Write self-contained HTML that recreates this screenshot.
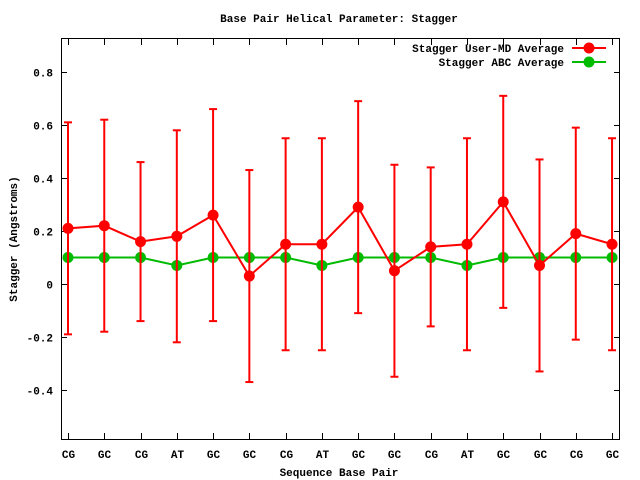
<!DOCTYPE html>
<html><head><style>
body{margin:0;background:#fff}
svg{display:block}
text{font-family:"Liberation Mono","DejaVu Sans Mono",monospace;font-size:11px;font-weight:bold;fill:#000}
</style></head><body>
<svg id="s" width="640" height="480" xmlns="http://www.w3.org/2000/svg">
<rect x="61.5" y="38.5" width="558" height="401" fill="none" stroke="#000" stroke-width="1"/>
<text x="339" y="22" text-anchor="middle">Base Pair Helical Parameter: Stagger</text>
<text x="339" y="476" text-anchor="middle">Sequence Base Pair</text>
<text transform="translate(17,239) rotate(-90)" text-anchor="middle">Stagger (Angstroms)</text>
<text x="564" y="52" text-anchor="end">Stagger User-MD Average</text>
<text x="564" y="66" text-anchor="end">Stagger ABC Average</text>
<line x1="572" y1="48" x2="606" y2="48" stroke="#f00" stroke-width="2"/>
<circle cx="589" cy="48" r="5.5" fill="#f00"/>
<line x1="572" y1="62" x2="606" y2="62" stroke="#0b0" stroke-width="2"/>
<circle cx="589" cy="62" r="5.5" fill="#0b0"/>
</svg>
<script>
var s=document.getElementById('s'),ns='http://www.w3.org/2000/svg';
function el(t,a,txt){var e=document.createElementNS(ns,t);for(var k in a)e.setAttribute(k,a[k]);if(txt!=null)e.textContent=txt;s.appendChild(e);return e;}
function Y(v){return 284-v*265;}
var x0=68,dx=36.27;
function X(i){return x0+i*dx;}
var yt=[[0.8,'0.8'],[0.6,'0.6'],[0.4,'0.4'],[0.2,'0.2'],[0,'0'],[-0.2,'-0.2'],[-0.4,'-0.4']];
yt.forEach(function(t){var y=Math.round(Y(t[0]))+0.5;
el('line',{x1:61,y1:y,x2:67,y2:y,stroke:'#000'});el('line',{x1:614,y1:y,x2:620,y2:y,stroke:'#000'});
el('text',{x:53,y:y+4,'text-anchor':'end'},t[1]);});
var lab=['CG','GC','CG','AT','GC','GC','CG','AT','GC','GC','CG','AT','GC','GC','CG','GC'];
var r=[0.21,0.22,0.16,0.18,0.26,0.03,0.15,0.15,0.29,0.05,0.14,0.15,0.31,0.07,0.19,0.15];
var e=[0.4,0.4,0.3,0.4,0.4,0.4,0.4,0.4,0.4,0.4,0.3,0.4,0.4,0.4,0.4,0.4];
var g=[0.1,0.1,0.1,0.07,0.1,0.1,0.1,0.07,0.1,0.1,0.1,0.07,0.1,0.1,0.1,0.1];
lab.forEach(function(l,i){var x=Math.round(X(i))+0.5;
el('line',{x1:x,y1:439,x2:x,y2:433,stroke:'#000'});el('line',{x1:x,y1:39,x2:x,y2:45,stroke:'#000'});
el('text',{x:x,y:458,'text-anchor':'middle'},l);});
var pg='',pr='';
g.forEach(function(v,i){pg+=X(i)+','+Y(v)+' ';});
r.forEach(function(v,i){pr+=X(i)+','+Y(v)+' ';});
el('polyline',{points:pg,fill:'none',stroke:'#0b0','stroke-width':2});
g.forEach(function(v,i){el('circle',{cx:X(i),cy:Y(v),r:5.5,fill:'#0b0'});});
r.forEach(function(v,i){var x=X(i),d=e[i];
el('line',{x1:x,y1:Y(v+d),x2:x,y2:Y(v-d),stroke:'#f00','stroke-width':2});
el('line',{x1:x-4,y1:Y(v+d),x2:x+4,y2:Y(v+d),stroke:'#f00','stroke-width':2});
el('line',{x1:x-4,y1:Y(v-d),x2:x+4,y2:Y(v-d),stroke:'#f00','stroke-width':2});});
el('polyline',{points:pr,fill:'none',stroke:'#f00','stroke-width':2});
r.forEach(function(v,i){el('circle',{cx:X(i),cy:Y(v),r:5.5,fill:'#f00'});});
</script>
</body></html>
